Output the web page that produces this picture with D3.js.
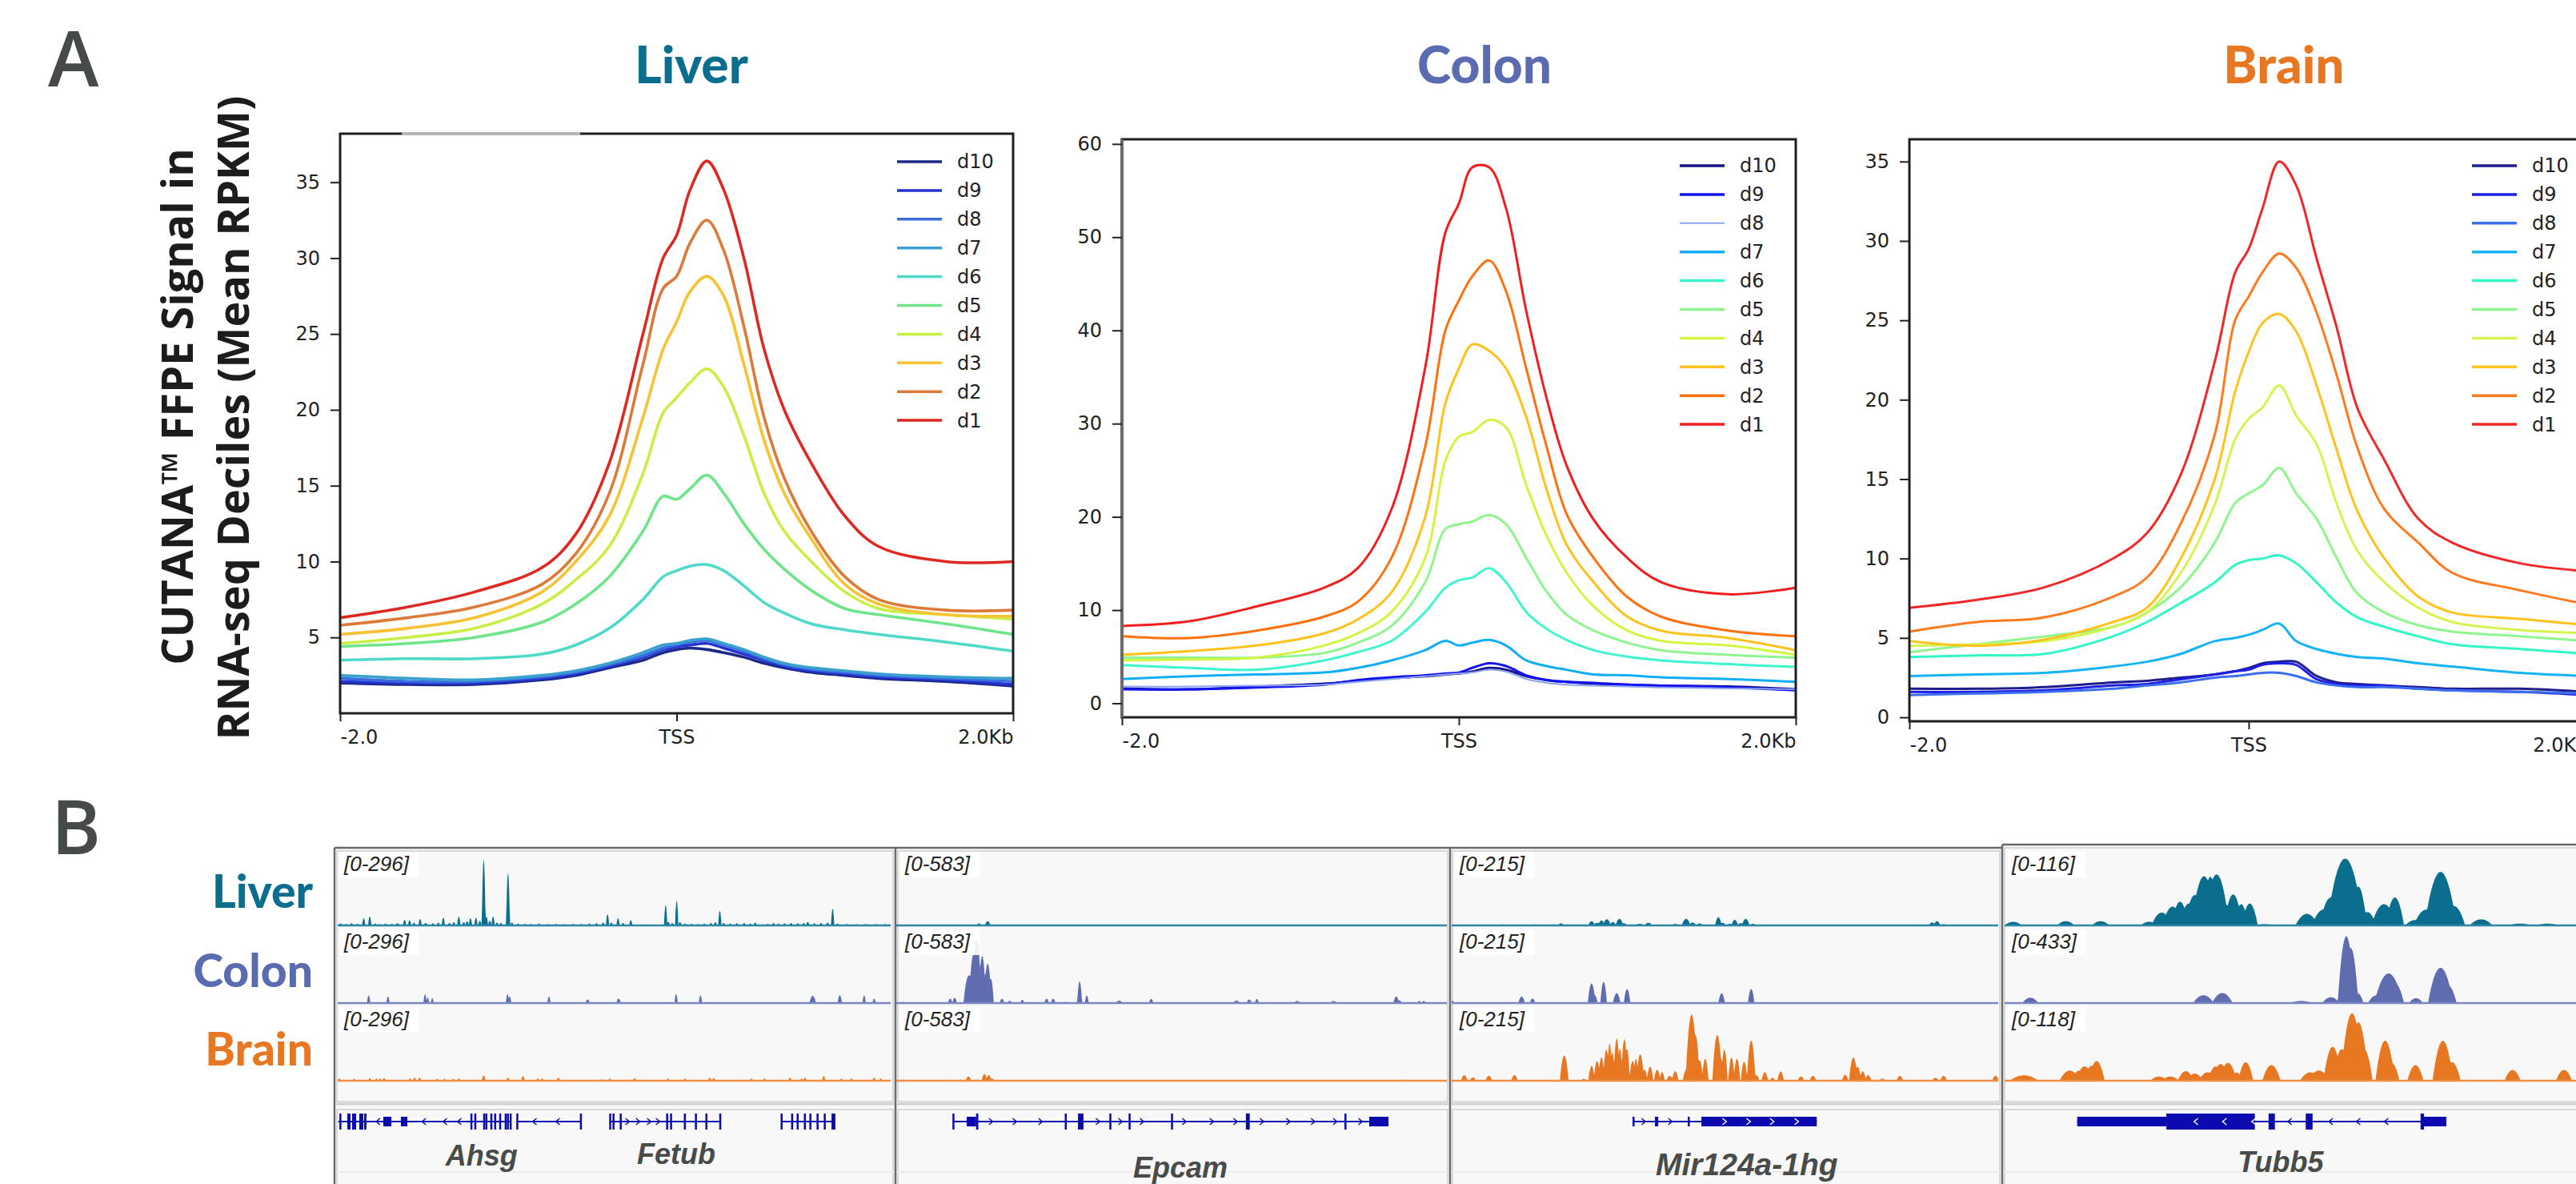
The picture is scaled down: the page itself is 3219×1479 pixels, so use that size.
<!DOCTYPE html>
<html>
<head>
<meta charset="utf-8">
<script src="https://cdn.jsdelivr.net/npm/d3@7"></script>
<style>
  body { margin: 0; background: #fff; }
  svg { display: block; }
</style>
</head>
<body>
<div class="fig"></div>
<script>
var width = 3219;
var height = 1479;

////////////////////////////////////////// data
// profile bins, kb around the TSS
var binPositions = [-2, -1.6, -1.2, -0.8, -0.6, -0.4, -0.2, -0.08, 0, 0.08, 0.18, 0.28, 0.4, 0.52, 0.64, 0.8, 1.0, 1.2, 1.6, 2.0];
var decileNames = ["d10", "d9", "d8", "d7", "d6", "d5", "d4", "d3", "d2", "d1"];

// mean RPKM per decile, rows d10 .. d1
var liverSignal = [
  [2.0, 1.9, 1.9, 2.2, 2.5, 3.0, 3.5, 4.0, 4.2, 4.3, 4.2, 4.0, 3.7, 3.3, 3.0, 2.7, 2.5, 2.3, 2.1, 1.8],
  [2.1, 2.0, 2.0, 2.3, 2.6, 3.1, 3.7, 4.2, 4.4, 4.5, 4.6, 4.3, 3.9, 3.5, 3.1, 2.8, 2.6, 2.4, 2.2, 1.9],
  [2.3, 2.1, 2.1, 2.4, 2.7, 3.2, 3.8, 4.3, 4.5, 4.7, 4.8, 4.5, 4.1, 3.6, 3.2, 2.9, 2.7, 2.5, 2.3, 2.1],
  [2.5, 2.3, 2.2, 2.5, 2.8, 3.3, 4.0, 4.5, 4.6, 4.8, 4.9, 4.6, 4.2, 3.7, 3.3, 3.0, 2.8, 2.6, 2.4, 2.3],
  [3.5, 3.6, 3.6, 3.9, 4.5, 5.6, 7.5, 9.0, 9.4, 9.7, 9.8, 9.4, 8.4, 7.3, 6.6, 5.9, 5.5, 5.2, 4.7, 4.1],
  [4.4, 4.6, 5.0, 6.0, 7.2, 9.0, 12.0, 14.3, 14.1, 14.8, 15.7, 14.5, 12.5, 10.8, 9.5, 8.1, 6.9, 6.5, 5.9, 5.2],
  [4.6, 5.0, 5.6, 7.2, 8.8, 11.0, 15.8, 19.8, 20.8, 21.8, 22.7, 21.5, 18.3, 14.5, 12.0, 10.0, 8.0, 6.9, 6.5, 6.2],
  [5.2, 5.6, 6.3, 8.0, 10.0, 13.0, 19.5, 24.0, 25.8, 27.8, 28.8, 27.5, 23.0, 18.0, 14.5, 11.5, 8.5, 7.2, 6.5, 6.4],
  [5.8, 6.3, 7.0, 8.5, 10.5, 14.5, 23.0, 28.0, 28.8, 31.0, 32.5, 30.5, 25.5, 19.5, 15.5, 12.0, 9.0, 7.5, 6.8, 6.8],
  [6.3, 7.0, 8.0, 9.6, 11.8, 16.5, 25.0, 30.0, 31.5, 34.5, 36.4, 34.5, 30.0, 24.0, 20.0, 16.5, 13.0, 11.0, 10.0, 10.0]
];
var colonSignal = [
  [1.6, 1.5, 1.8, 2.1, 2.4, 2.7, 2.9, 3.1, 3.2, 3.4, 3.8, 3.6, 2.9, 2.5, 2.3, 2.1, 2.0, 1.9, 1.8, 1.5],
  [1.5, 1.5, 1.7, 2.0, 2.5, 2.8, 3.0, 3.2, 3.3, 3.8, 4.3, 4.0, 3.0, 2.5, 2.3, 2.2, 2.0, 1.9, 1.7, 1.4],
  [1.8, 1.8, 1.9, 2.0, 2.3, 2.6, 2.9, 3.1, 3.2, 3.3, 3.6, 3.4, 2.6, 2.2, 2.0, 1.9, 1.8, 1.7, 1.6, 1.5],
  [2.6, 2.9, 3.1, 3.3, 3.8, 4.6, 5.7, 6.7, 6.2, 6.5, 6.8, 6.2, 4.6, 4.0, 3.6, 3.1, 3.0, 2.8, 2.6, 2.3],
  [4.1, 3.8, 3.6, 4.6, 5.5, 6.7, 9.8, 12.4, 13.2, 13.5, 14.5, 13.0, 9.8, 8.0, 6.8, 5.7, 5.0, 4.6, 4.2, 3.9],
  [4.9, 4.9, 4.9, 5.4, 6.5, 8.3, 13.0, 18.7, 19.2, 19.5, 20.2, 19.2, 15.6, 12.0, 9.5, 7.8, 6.5, 5.7, 5.2, 4.9],
  [4.6, 4.7, 4.9, 6.2, 7.5, 9.8, 15.6, 26.0, 28.6, 29.1, 30.4, 29.6, 23.4, 18.0, 14.0, 10.4, 7.8, 6.7, 6.2, 5.2],
  [5.2, 5.6, 6.2, 7.5, 9.0, 11.9, 20.0, 32.2, 35.9, 38.5, 37.8, 35.9, 30.7, 23.0, 17.0, 13.0, 9.3, 7.8, 7.0, 5.7],
  [7.2, 7.0, 7.8, 9.3, 10.9, 15.6, 27.5, 40.0, 43.2, 45.8, 47.5, 44.2, 35.9, 27.6, 20.3, 15.6, 11.4, 9.3, 7.8, 7.2],
  [8.3, 8.8, 10.4, 12.4, 14.5, 20.8, 36.0, 50.5, 53.6, 57.5, 57.5, 53.1, 42.1, 32.8, 25.5, 19.7, 15.6, 13.0, 11.7, 12.4]
];
var brainSignal = [
  [1.8, 1.8, 1.9, 2.2, 2.3, 2.5, 2.7, 2.9, 3.1, 3.4, 3.5, 3.5, 2.6, 2.2, 2.1, 2.0, 1.9, 1.8, 1.8, 1.6],
  [1.6, 1.6, 1.7, 2.0, 2.1, 2.4, 2.7, 2.9, 3.0, 3.3, 3.4, 3.3, 2.4, 2.1, 2.0, 2.0, 1.8, 1.7, 1.6, 1.4],
  [1.4, 1.5, 1.6, 1.8, 2.0, 2.2, 2.5, 2.6, 2.7, 2.8, 2.8, 2.6, 2.2, 2.0, 1.9, 1.9, 1.8, 1.7, 1.6, 1.5],
  [2.6, 2.7, 2.8, 3.2, 3.5, 4.0, 4.8, 5.0, 5.2, 5.5, 5.9, 4.8, 4.3, 4.0, 3.8, 3.7, 3.4, 3.2, 2.8, 2.6],
  [3.8, 3.9, 4.0, 5.1, 6.0, 7.2, 8.5, 9.6, 9.9, 10.0, 10.2, 9.7, 8.5, 7.2, 6.3, 5.7, 5.1, 4.6, 4.3, 4.0],
  [4.1, 4.6, 5.1, 5.7, 6.6, 8.2, 11.0, 13.5, 14.1, 14.6, 15.7, 14.1, 12.5, 10.0, 7.8, 6.6, 5.8, 5.4, 5.1, 4.8],
  [4.5, 4.6, 4.8, 5.7, 6.6, 9.1, 13.4, 17.5, 18.8, 19.5, 20.9, 19.0, 17.2, 13.4, 10.5, 8.5, 6.9, 6.0, 5.5, 5.3],
  [4.8, 4.5, 4.9, 6.0, 6.9, 10.0, 15.0, 20.5, 23.0, 24.8, 25.4, 24.3, 20.9, 16.8, 13.0, 10.0, 7.6, 6.6, 6.2, 5.8],
  [5.4, 6.0, 6.3, 7.6, 8.8, 12.2, 17.8, 25.0, 26.5, 28.0, 29.2, 28.3, 25.5, 21.5, 17.0, 13.1, 11.0, 9.1, 8.0, 7.1],
  [6.9, 7.4, 8.2, 10.0, 11.6, 15.3, 22.4, 28.0, 29.5, 32.0, 35.0, 33.5, 28.9, 24.5, 19.5, 16.2, 12.5, 11.0, 9.7, 9.2]
];

var liverTicks = [5, 10, 15, 20, 25, 30, 35];
var colonTicks = [0, 10, 20, 30, 40, 50, 60];
var brainTicks = [0, 5, 10, 15, 20, 25, 30, 35];
var xTickLabels = ["-2.0", "TSS", "2.0Kb"];

var liverColors = ["#1b2a8a", "#2433d0", "#3a6ce0", "#3aa0d0", "#4fd9c9", "#6fe58a", "#c9ef45", "#f7c233", "#dd7a3a", "#dc2a22"];
var colonColors = ["#141488", "#1414f0", "#8ca4f2", "#12aef5", "#3ef5cf", "#8ef58e", "#d2f542", "#ffc21a", "#ff700e", "#f01e1e"];
var brainColors = ["#1e1e8c", "#1e1ee6", "#3c6ef0", "#14b4f5", "#32f5c8", "#8ff58f", "#d2f550", "#ffc31e", "#ff7a1e", "#f02828"];

// genome browser loci (B): track data ranges, then peaks [position 0-100, signal, half width]
var tissues = ["Liver", "Colon", "Brain"];
var locusRanges = [[296, 296, 296], [583, 583, 583], [215, 215, 215], [116, 433, 118]];

var liverAhsg = [[0.5,8,0.4],[1.5,6,0.3],[2.5,9,0.3],[3.6,7,0.3],[4.7,30,0.3],[5.8,38,0.3],[6.8,8,0.3],[7.6,6,0.3],[8.6,8,0.3],[9.8,7,0.3],[10.8,9,0.4],[12.1,24,0.3],[13.0,22,0.3],[13.8,12,0.3],[14.9,27,0.3],[15.9,10,0.4],[17.2,9,0.3],[18.2,12,0.3],[19.1,33,0.3],[20.2,10,0.3],[21.0,14,0.3],[21.9,38,0.3],[22.8,14,0.3],[23.4,18,0.3],[24.0,30,0.3],[25.0,33,0.3],[25.7,20,0.3],[26.4,278,0.35],[26.9,36,0.3],[27.5,20,0.3],[28.1,38,0.3],[28.8,12,0.3],[29.5,10,0.3],[30.8,222,0.35],[31.5,12,0.3],[32.6,8,0.3],[33.8,7,0.3],[35.0,6,0.3],[36.4,8,0.3],[38.0,6,0.3],[39.5,7,0.3],[41.0,6,0.3],[42.6,7,0.3],[44.0,6,0.3],[45.5,8,0.3],[46.8,9,0.3],[48.0,12,0.3],[48.8,47,0.3],[49.5,12,0.3],[50.7,30,0.3],[51.6,10,0.3],[53.0,22,0.3],[59.3,86,0.3],[59.8,15,0.3],[60.5,10,0.3],[61.3,104,0.3],[61.9,14,0.3],[62.8,8,0.3],[64.0,7,0.3],[65.2,6,0.3],[66.3,8,0.3],[67.5,10,0.3],[68.3,14,0.3],[69.1,62,0.3],[69.8,10,0.3],[71.0,8,0.3],[72.2,9,0.3],[73.5,10,0.3],[74.6,8,0.3],[75.5,12,0.3],[77.8,7,0.3],[78.8,10,0.3],[79.7,8,0.3],[80.8,9,0.3],[82.0,10,0.3],[83.2,9,0.3],[84.3,10,0.3],[85.0,15,0.3],[86.2,9,0.3],[87.4,10,0.3],[88.6,12,0.3],[89.5,71,0.3],[90.4,8,0.3],[92.0,6,0.3],[93.8,6,0.3],[95.5,6,0.3],[97.4,6,0.3],[99.0,6,0.3]];
var colonAhsg = [[5.6,33,0.3],[9.1,28,0.3],[15.8,38,0.3],[16.3,24,0.25],[17.1,22,0.25],[30.7,38,0.3],[31.1,28,0.3],[38.2,28,0.3],[45.2,15,0.4],[50.8,19,0.4],[61.2,38,0.3],[65.6,33,0.3],[85.9,30,0.6],[90.8,33,0.4],[95.2,33,0.3],[97.0,19,0.3]];
var brainAhsg = [[0.3,9,0.3],[3.0,8,0.3],[5.8,11,0.3],[7.0,9,0.3],[7.7,9,0.3],[8.4,11,0.3],[13.1,9,0.3],[13.9,13,0.3],[14.8,13,0.3],[18.0,8,0.3],[19.3,8,0.3],[20.9,8,0.3],[21.9,9,0.3],[26.4,22,0.35],[30.8,13,0.3],[33.5,20,0.3],[36.2,9,0.3],[37.0,9,0.3],[39.9,13,0.35],[47.7,6,0.3],[49.2,9,0.3],[53.7,11,0.3],[59.7,9,0.3],[62.8,9,0.3],[67.3,13,0.3],[68.0,11,0.3],[74.8,9,0.3],[77.2,9,0.3],[81.8,13,0.3],[83.9,9,0.3],[84.5,13,0.3],[87.9,20,0.3],[91.1,9,0.3],[92.9,9,0.3],[97.0,13,0.3],[98.2,9,0.3]];

var liverEpcam = [[10.0,6,0.8],[13.4,6,0.5],[15.0,16,0.5],[16.6,35,0.5],[33.7,6,1.0],[91.3,6,0.4]];
var colonEpcam = [[1.3,9,0.6],[9.8,37,0.4],[10.6,44,0.4],[13.2,230,1.0],[14.0,400,0.8],[14.6,530,0.9],[15.6,390,0.7],[16.2,240,0.4],[16.6,326,0.7],[17.2,200,0.5],[19.2,37,0.4],[20.6,17,0.5],[22.9,26,0.4],[27.3,37,0.4],[28.5,37,0.4],[30.6,9,0.8],[33.3,181,0.45],[34.6,64,0.35],[40.5,20,0.6],[46.3,35,0.4],[61.8,20,0.6],[64.1,29,0.5],[65.5,35,0.35],[72.8,17,0.6],[79.4,17,0.6],[90.8,55,0.5],[91.3,23,0.6],[95.0,17,0.4],[95.8,17,0.4]];
var brainEpcam = [[1.0,9,0.8],[9.8,9,0.4],[11.6,9,0.4],[13.1,35,0.5],[14.5,9,0.4],[16.0,55,0.5],[16.8,47,0.5],[17.4,20,0.4],[92.1,9,0.5]];

var liverMir124 = [[9.3,3,0.6],[15.2,3,0.6],[18.6,3,0.6],[20.0,6,0.6],[21.3,3,0.6],[24.3,3,0.6],[25.6,13,0.6],[26.6,8,0.6],[27.4,15,0.6],[28.4,19,0.7],[29.5,10,0.6],[30.7,20,0.7],[31.5,7,0.6],[34.4,5,0.7],[36.0,8,0.7],[40.9,5,0.5],[42.9,20,0.8],[44.1,9,0.6],[45.4,6,0.6],[48.8,25,0.6],[49.6,8,0.6],[50.9,5,0.6],[51.8,17,0.6],[52.9,7,0.6],[53.8,20,0.7],[55.1,5,0.6],[87.9,9,0.6],[88.8,13,0.6],[90.0,4,0.5]];
var colonMir124 = [[0.1,8,0.3],[12.8,20,0.6],[14.8,14,0.5],[25.6,60,0.7],[26.2,24,0.5],[27.8,65,0.6],[30.2,30,0.7],[32.1,43,0.6],[49.4,30,0.6],[54.8,43,0.6]];
var brainMir124 = [[2.3,17,0.6],[3.9,10,0.6],[6.8,15,0.6],[11.5,17,0.6],[20.6,77,0.8],[24.2,6,0.5],[25.6,45,0.6],[26.6,60,0.6],[27.4,71,0.6],[28.3,95,0.6],[28.9,114,0.5],[29.4,86,0.5],[30.2,129,0.6],[30.8,97,0.5],[31.6,127,0.6],[32.1,97,0.5],[33.1,60,0.6],[33.7,67,0.5],[34.5,81,0.7],[35.3,34,0.5],[36.3,43,0.6],[37.6,33,0.6],[38.5,26,0.5],[39.9,15,0.6],[40.9,29,0.6],[42.9,33,0.6],[43.9,202,1.1],[44.6,140,0.8],[45.4,62,0.6],[46.4,67,0.6],[48.6,140,0.9],[49.3,67,0.5],[49.9,95,0.6],[51.2,71,0.6],[52.2,67,0.6],[53.5,58,0.6],[54.8,123,0.8],[55.8,17,0.5],[57.3,26,0.6],[58.7,9,0.5],[60.2,28,0.6],[63.9,13,0.6],[66.1,15,0.6],[72.0,18,0.6],[73.5,71,0.8],[74.3,43,0.6],[75.2,29,0.6],[76.2,17,0.6],[78.8,6,0.6],[82.0,15,0.6],[88.5,9,0.6],[90.0,15,0.6],[99.5,15,0.6]];

var liverTubb5 = [[1.5,6,1.5],[10.7,7,1.5],[16.8,7,1.5],[25.3,6,1.5],[27.5,21,1.8],[29.4,31,1.8],[30.7,39,1.5],[32.2,36,1.5],[33.3,50,1.8],[34.9,81,2.2],[36.0,80,1.5],[37.1,84,2.2],[38.6,35,1.5],[40.0,51,1.6],[41.4,35,1.2],[42.9,36,1.4],[45.5,2,1.8],[52.9,19,2.0],[55.8,26,2.0],[57.1,46,2.0],[59.6,110,3.2],[61.9,64,1.5],[63.5,22,1.5],[66.4,35,2.2],[68.3,46,1.6],[71.9,9,1.8],[73.8,26,2.2],[76.3,88,2.8],[78.6,32,2.0],[83.4,10,2.0],[90.2,3,2.0],[95.0,3,2.0]];
var colonTubb5 = [[4.5,33,1.4],[34.8,48,1.8],[38.1,62,1.8],[51.9,13,2.0],[57.1,36,1.5],[59.8,411,1.5],[60.6,338,1.3],[61.8,60,1.0],[65.1,48,1.5],[67.2,182,2.5],[68.3,121,1.6],[72.0,30,1.2],[76.3,217,2.2],[77.6,108,1.5]];
var brainTubb5 = [[3.4,9,2.5],[11.4,17,1.8],[13.0,17,1.2],[14.0,24,1.5],[15.2,25,1.2],[16.1,33,1.4],[27.0,7,1.5],[29.0,7,1.5],[31.7,16,1.4],[33.3,12,1.4],[35.5,14,1.5],[37.0,24,1.5],[37.8,28,1.5],[39.1,30,1.5],[40.6,14,1.0],[42.2,31,1.3],[46.7,26,1.6],[53.5,14,1.8],[55.0,17,1.8],[57.4,57,1.6],[59.0,53,1.5],[60.8,113,2.0],[61.9,98,1.8],[62.9,53,1.5],[66.6,67,1.7],[67.7,30,1.4],[71.9,26,1.4],[76.7,67,1.8],[78.3,31,1.5],[88.9,18,1.4],[97.9,18,1.4]];

var locusPeaks = [
  [liverAhsg, colonAhsg, brainAhsg],
  [liverEpcam, colonEpcam, brainEpcam],
  [liverMir124, colonMir124, brainMir124],
  [liverTubb5, colonTubb5, brainTubb5]
];

// gene models, positions 0-100 within each locus
var geneModels = [
  {locus: 0, strand: -1, span: [0.1, 31.4], cds: [[0.3,0.6],[1.74,2.32],[2.6,3.33],[3.9,4.63],[4.78,5.2],[24.0,24.35],[24.7,25.05],[26.3,26.65],[26.7,27.05],[27.6,27.95],[28.3,28.65],[29.2,29.55],[30.2,30.55],[30.6,30.95],[31.1,31.4]], utr: [[8.25,9.7],[11.43,12.59]], arrows: [7.3,15.6,19.4,22.0]},
  {locus: 0, strand: -1, span: [32.4, 44.0], cds: [[32.3,32.6],[43.8,44.1]], utr: [], arrows: [35.6,39.8]},
  {locus: 0, strand: 1, span: [49.2, 69.2], cds: [[49.1,49.4],[49.7,50.0],[51.0,51.3],[59.4,59.7],[60.1,60.4],[62.6,62.9],[64.6,64.9],[66.5,66.8],[69.0,69.3]], utr: [], arrows: [52.4,54.3,56.3,57.9]},
  {locus: 0, strand: 1, span: [80.2, 90.0], cds: [[80.1,80.4],[82.0,82.3],[83.0,83.3],[84.3,84.6],[85.3,85.6],[86.6,86.9],[87.9,88.2],[89.3,90.0]], utr: [], arrows: []},
  {locus: 1, strand: 1, span: [10.3, 89.4], cds: [[10.2,10.5],[14.5,14.9],[30.6,30.9],[33.0,34.0],[38.7,39.0],[42.2,42.5],[49.9,50.2],[63.5,64.2],[81.4,81.7]], utr: [[12.8,14.5],[85.9,89.4]], arrows: [17.2,21.5,26.2,36.6,40.7,44.6,52.3,57.3,61.6,66.4,71.2,75.7,79.7,84.3]},
  {locus: 2, strand: 1, span: [33.2, 66.8], cds: [], utr: [[33.1,33.4],[37.2,37.8],[43.2,43.5],[45.7,66.8]], arrows: [35.1,40.0,49.9,54.3,58.6,63.1]},
  {locus: 3, strand: -1, span: [12.7, 77.3], cds: [[28.3,43.8],[46.2,47.3],[52.7,53.9],[72.8,73.4]], utr: [[12.7,28.3],[73.1,77.3]], arrows: [33.5,38.5,43.6,49.9,57.1,61.9,66.8]}
];
var geneNames = ["Ahsg", "Fetub", "Epcam", "Mir124a-1hg", "Tubb5"];
var geneNameLocus = [0, 0, 1, 2, 3];
var geneNamePos = [26.0, 61.2, 51.6, 54.0, 48.3];

////////////////////////////////////////// page
var svg = d3.select(".fig").append("svg")
    .attr("width", width)
    .attr("height", height)
    .style("font-family", "'Open Sans', sans-serif");

svg.append("rect").attr("width", width).attr("height", height).attr("fill", "#fff");

// panel letters
svg.append("text").attr("x", 60).attr("y", 108).text("A")
    .style("font-size", "96px").style("font-weight", 600).style("fill", "#474b48");
svg.append("text").attr("x", 64).attr("y", 1067).text("B")
    .style("font-size", "94px").style("font-weight", 600).style("fill", "#474b48");

// y label for A
var ylab = svg.append("g").style("font-weight", 700).style("font-size", "54px").style("fill", "#1c1c1c");
ylab.append("text").attr("transform", "translate(241,508) rotate(-90)")
    .attr("text-anchor", "middle").text("CUTANA\u2122 FFPE Signal in");
ylab.append("text").attr("transform", "translate(311,522) rotate(-90)")
    .attr("text-anchor", "middle").text("RNA-seq Deciles (Mean RPKM)");

var profiles = [
  {id: "liver", title: "Liver", titleColor: "#0b6e8f", titleX: 864, left: 425, right: 1266, top: 167, bottom: 891,
   yDomain: [0, 38.2], ticks: liverTicks, values: liverSignal, colors: liverColors, lineW: 3.6, legendTop: 202},
  {id: "colon", title: "Colon", titleColor: "#5b6bb0", titleX: 1855, left: 1402, right: 2244, top: 174, bottom: 896,
   yDomain: [-1.5, 60.5], ticks: colonTicks, values: colonSignal, colors: colonColors, lineW: 3, legendTop: 207},
  {id: "brain", title: "Brain", titleColor: "#e87722", titleX: 2854, left: 2386, right: 3234, top: 174, bottom: 901,
   yDomain: [-0.25, 36.4], ticks: brainTicks, values: brainSignal, colors: brainColors, lineW: 3, legendTop: 207}
];

profiles.forEach(function(p) {
  var g = svg.append("g").attr("class", "profile-" + p.id);
  var x = d3.scaleLinear().domain([-2, 2]).range([p.left, p.right]);
  var y = d3.scaleLinear().domain(p.yDomain).range([p.bottom, p.top]);

  g.append("text").attr("x", p.titleX).attr("y", 104).attr("text-anchor", "middle")
      .text(p.title)
      .style("font-family", "Lato, sans-serif").style("font-weight", 900)
      .style("font-size", "64px").style("fill", p.titleColor);

  g.append("clipPath").attr("id", "clip-" + p.id).append("rect")
      .attr("x", p.left).attr("y", p.top).attr("width", p.right - p.left).attr("height", p.bottom - p.top);

  var line = d3.line()
      .x(function(d, i) { return x(binPositions[i]); })
      .y(function(d) { return y(d); })
      .curve(d3.curveCatmullRom.alpha(0.5));

  g.append("g").attr("clip-path", "url(#clip-" + p.id + ")")
    .selectAll("path")
      .data(p.values)
    .enter().append("path")
      .attr("d", line)
      .style("fill", "none")
      .style("stroke", function(d, i) { return p.colors[i]; })
      .style("stroke-width", function(d, i) { return (p.id == "colon" && i == 2) ? 2 : p.lineW; })
      .style("stroke-linejoin", "round");

  // frame
  g.append("rect").attr("x", p.left).attr("y", p.top)
      .attr("width", p.right - p.left).attr("height", p.bottom - p.top)
      .style("fill", "none").style("stroke", "#1e1e1e").style("stroke-width", 3);
  if (p.id == "liver") {
    g.append("line").attr("x1", 502).attr("x2", 725).attr("y1", p.top).attr("y2", p.top)
        .style("stroke", "#b4b4b4").style("stroke-width", 4);
  }
  if (p.id == "colon") {
    g.append("line").attr("x1", p.left).attr("x2", p.left).attr("y1", p.top).attr("y2", p.bottom)
        .style("stroke", "#6a6a6a").style("stroke-width", 4);
  }

  var yAxis = d3.axisLeft(y).tickValues(p.ticks).tickSize(12).tickPadding(13).tickFormat(d3.format("d"));
  var ya = g.append("g").attr("transform", "translate(" + p.left + ",0)").call(yAxis);
  ya.select(".domain").remove();
  ya.selectAll("line").style("stroke", "#222").style("stroke-width", 2);
  ya.selectAll("text").style("font-family", "'DejaVu Sans', sans-serif").style("font-size", "24px").style("fill", "#222");

  var xAxis = d3.axisBottom(x).tickValues([-2, 0, 2]).tickSize(10).tickPadding(11)
      .tickFormat(function(d, i) { return xTickLabels[i]; });
  var xa = g.append("g").attr("transform", "translate(0," + p.bottom + ")").call(xAxis);
  xa.select(".domain").remove();
  xa.selectAll("line").style("stroke", "#222").style("stroke-width", 2);
  xa.selectAll("text").style("font-family", "'DejaVu Sans', sans-serif").style("font-size", "24px").style("fill", "#222")
      .attr("text-anchor", function(d, i) { return i == 0 ? "start" : (i == 2 ? "end" : "middle"); });

  // legend
  var leg = g.append("g").selectAll("g")
      .data(decileNames)
    .enter().append("g")
      .attr("transform", function(d, i) { return "translate(" + (p.right - 145) + "," + (p.legendTop + i * 35.9) + ")"; });
  leg.append("line").attr("x1", 0).attr("x2", 56)
      .style("stroke", function(d, i) { return p.colors[i]; })
      .style("stroke-width", function(d, i) { return (p.id == "colon" && i == 2) ? 2 : 3.5; });
  leg.append("text").attr("x", 75).attr("dy", "0.35em").text(function(d) { return d; })
      .style("font-family", "'DejaVu Sans', sans-serif").style("font-size", "24px").style("fill", "#222");
});

////////////////////////////////////////// B: browser tracks
var locusLeft = [418, 1119, 1812, 2502];
var locusRight = [1119, 1812, 2502, 3240];
var dataLeft = [422, 1120, 1814, 2505];
var dataRight = [1113, 1808, 2497, 3219];
var trackTop = [1062, 1159, 1256];
var trackBase = [1156, 1253, 1350];
var trackH = 88;
var trackFill = ["#0b6e8f", "#5f6cb0", "#e87722"];
var trackLine = ["#2a88a6", "#7b86c2", "#f08e45"];
var labelColor = ["#0b6e8f", "#5b6bb0", "#e87722"];

var browser = svg.append("g").attr("class", "browser");

locusLeft.forEach(function(l, k) {
  var r = locusRight[k];
  var topY = k == 3 ? 1055 : 1059;
  browser.append("rect").attr("x", l).attr("y", topY).attr("width", r - l).attr("height", height - topY)
      .style("fill", "#f8f8f8");
  browser.append("rect").attr("x", l + 3).attr("y", topY + 4).attr("width", r - l - 6).attr("height", 1376 - topY - 4)
      .style("fill", "none").style("stroke", "#d8d8d8").style("stroke-width", 2);
  browser.append("rect").attr("x", l + 3).attr("y", 1386).attr("width", r - l - 6).attr("height", 120)
      .style("fill", "none").style("stroke", "#d8d8d8").style("stroke-width", 2);
  browser.append("line").attr("x1", l + 2).attr("x2", r - 2).attr("y1", 1379).attr("y2", 1379)
      .style("stroke", "#cfcfcf").style("stroke-width", 3);
  browser.append("line").attr("x1", l + 2).attr("x2", r - 2).attr("y1", 1464).attr("y2", 1464)
      .style("stroke", "#ececec").style("stroke-width", 2);
});

var sampleSteps = d3.range(0, 100.05, 0.1);

locusPeaks.forEach(function(peaksByTissue, k) {
  var x = d3.scaleLinear().domain([0, 100]).range([dataLeft[k], dataRight[k]]);
  peaksByTissue.forEach(function(peaks, t) {
    var y = d3.scaleLinear().domain([0, locusRanges[k][t]]).range([trackBase[t], trackBase[t] - trackH]);
    var profile = sampleSteps.map(function(s) {
      var v = 0;
      peaks.forEach(function(pk) {
        var u = Math.abs(s - pk[0]) / pk[2];
        if (u < 1) v = Math.max(v, pk[1] * (1 - u * u));
      });
      return [s, v];
    });
    var area = d3.area()
        .x(function(d) { return x(d[0]); })
        .y0(y(0))
        .y1(function(d) { return y(d[1]); });
    browser.append("path").datum(profile).attr("d", area)
        .style("fill", trackFill[t]);
    browser.append("line").attr("x1", x(0)).attr("x2", x(100)).attr("y1", y(0)).attr("y2", y(0))
        .style("stroke", trackLine[t]).style("stroke-width", 2.5);

    browser.append("rect").attr("x", locusLeft[k] + 7).attr("y", trackTop[t] + 2)
        .attr("width", 98).attr("height", 32).style("fill", "#ffffff").style("opacity", 0.9);
    browser.append("text").attr("x", locusLeft[k] + 12).attr("y", trackTop[t] + 26)
        .text("[0-" + locusRanges[k][t] + "]")
        .style("font-family", "'Liberation Sans', Arial, sans-serif").style("font-style", "italic")
        .style("font-size", "26px").style("fill", "#222");
  });
});

// tissue labels on the left of B
tissues.forEach(function(name, t) {
  svg.append("text").attr("x", 391).attr("y", [1134, 1233, 1331][t]).attr("text-anchor", "end")
      .text(name)
      .style("font-family", "Lato, sans-serif").style("font-weight", 900)
      .style("font-size", "57px").style("fill", labelColor[t]);
});

// gene models
var geneY = 1401;
var geneColor = "#0a0aae";
geneModels.forEach(function(gm) {
  var x = d3.scaleLinear().domain([0, 100]).range([dataLeft[gm.locus], dataRight[gm.locus]]);
  var gg = browser.append("g");
  gg.append("line").attr("x1", x(gm.span[0])).attr("x2", x(gm.span[1])).attr("y1", geneY).attr("y2", geneY)
      .style("stroke", geneColor).style("stroke-width", 2);
  gm.utr.forEach(function(e) {
    gg.append("rect").attr("x", x(e[0])).attr("y", geneY - 6)
        .attr("width", Math.max(2.5, x(e[1]) - x(e[0]))).attr("height", 12).style("fill", geneColor);
  });
  gm.cds.forEach(function(e) {
    gg.append("rect").attr("x", x(e[0])).attr("y", geneY - 10)
        .attr("width", Math.max(2.5, x(e[1]) - x(e[0]))).attr("height", 20).style("fill", geneColor);
  });
  var blocks = gm.cds.concat(gm.utr);
  gm.arrows.forEach(function(a) {
    var inside = blocks.some(function(e) { return a > e[0] && a < e[1]; });
    var ax = x(a), s = gm.strand;
    gg.append("path")
        .attr("d", "M" + (ax - s * 2.5) + "," + (geneY - 4) + "L" + (ax + s * 2.5) + "," + geneY + "L" + (ax - s * 2.5) + "," + (geneY + 4))
        .style("fill", "none").style("stroke", inside ? "#ffffff" : geneColor).style("stroke-width", 1.4);
  });
});

var geneNameBase = [1456, 1454, 1471, 1468, 1464];
geneNames.forEach(function(name, i) {
  var k = geneNameLocus[i];
  var x = d3.scaleLinear().domain([0, 100]).range([dataLeft[k], dataRight[k]]);
  browser.append("text").attr("x", x(geneNamePos[i])).attr("y", geneNameBase[i]).attr("text-anchor", "middle")
      .text(name)
      .style("font-family", "'Liberation Sans', Arial, sans-serif").style("font-style", "italic")
      .style("font-weight", 700).style("font-size", name.length > 6 ? "39px" : "36px").style("fill", "#484b48");
});

// locus borders
locusLeft.forEach(function(l, k) {
  var topY = k == 3 ? 1055 : 1059;
  browser.append("line").attr("x1", l).attr("x2", l).attr("y1", topY).attr("y2", height)
      .style("stroke", "#6a6a6a").style("stroke-width", 2.5);
  browser.append("line").attr("x1", l).attr("x2", locusRight[k]).attr("y1", topY).attr("y2", topY)
      .style("stroke", "#6a6a6a").style("stroke-width", 2.5);
});
</script>
</body>
</html>
